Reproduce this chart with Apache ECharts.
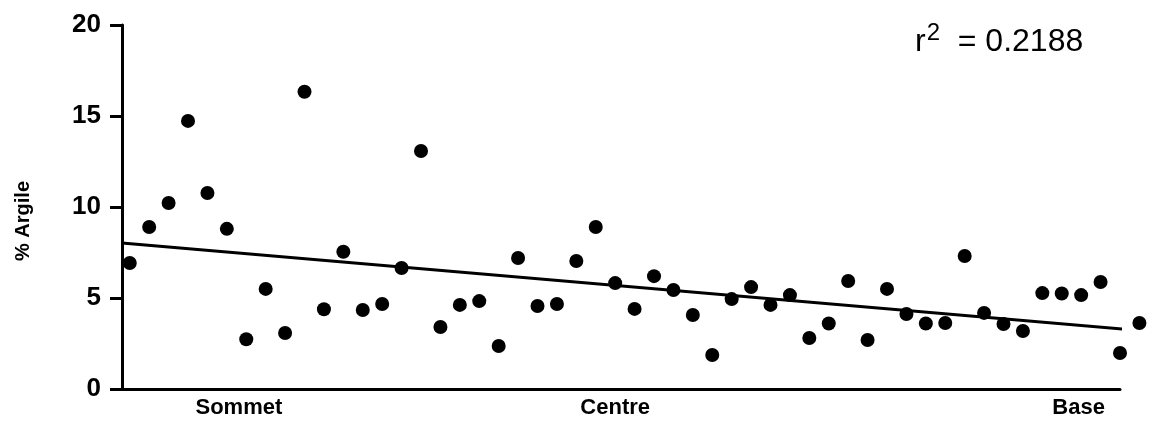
<!DOCTYPE html>
<html>
<head>
<meta charset="utf-8">
<script src="https://cdn.jsdelivr.net/npm/echarts@6/dist/echarts.min.js"></script>
<style>html,body{margin:0;padding:0;background:#fff}#c{width:1152px;height:428px}</style>
</head>
<body>
<div id="c"></div>
<script>
// sample order along the profile (1 = sommet ... 53 = base)
const argile = [6.92, 8.9, 10.22, 14.73, 10.77, 8.8, 2.73, 5.5, 3.08, 16.33,
  4.38, 7.54, 4.34, 4.67, 6.65, 13.08, 3.41, 4.62, 4.83, 2.36,
  7.2, 4.56, 4.67, 7.03, 8.9, 5.82, 4.4, 6.2, 5.44, 4.07,
  1.87, 4.94, 5.6, 4.62, 5.16, 2.8, 3.6, 5.93, 2.69, 5.5,
  4.12, 3.6, 3.63, 7.31, 4.18, 3.57, 3.19, 5.27, 5.25, 5.16,
  5.88, 1.98, 3.63];
const sampleIdx = argile.map((_, i) => i + 1);
const trendX = [0.6, 52.7];
const trendY = [8.02, 3.24];
const zoneLabels = ['Sommet', 'Centre', 'Base'];
const zoneAt = [6.62, 26.0, 49.87];
const yTicks = [0, 5, 10, 15, 20];
const r2Text = '0.2188';
const yName = '% Argile';

const FONT = '"Liberation Sans", Arial, sans-serif';
const chart = echarts.init(document.getElementById('c'));
chart.setOption({
  animation: false,
  backgroundColor: '#fff',
  title: {
    text: '{r|r}{s|2}{r|  = ' + r2Text + '}',
    left: 910, top: 16,
    textStyle: {
      rich: {
        r: {fontFamily: FONT, fontSize: 32, fontWeight: 'normal', color: '#000'},
        s: {fontFamily: FONT, fontSize: 24, fontWeight: 'normal', color: '#000', padding: [0, 0, 18, 1]}
      }
    }
  },
  grid: {left: 122, right: 32, top: 25, bottom: 39, containLabel: false},
  xAxis: {
    type: 'value', min: 0.6, max: 52,
    splitLine: {show: false},
    axisLine: {lineStyle: {color: '#000', width: 3}},
    axisTick: {show: false},
    axisLabel: {
      customValues: zoneAt,
      formatter: v => zoneLabels[zoneAt.indexOf(v)] || '',
      fontFamily: FONT, fontSize: 22, fontWeight: 'bold', color: '#000', margin: 8
    }
  },
  yAxis: {
    type: 'value', min: 0, max: 20, interval: 5,
    name: yName, nameLocation: 'middle', nameGap: 89, nameRotate: 90,
    nameTextStyle: {fontFamily: FONT, fontSize: 20, fontWeight: 'bold', color: '#000', padding: [0, 28, 0, 0]},
    splitLine: {show: false},
    axisLine: {show: true, lineStyle: {color: '#000', width: 3}},
    axisTick: {show: true, length: 12, lineStyle: {color: '#000', width: 3}},
    axisLabel: {
      customValues: yTicks,
      fontFamily: FONT, fontSize: 26, fontWeight: 'bold', color: '#000', margin: 21
    }
  },
  series: [
    {
      type: 'scatter', clip: false,
      symbol: 'circle', symbolSize: 14,
      itemStyle: {color: '#000', opacity: 1},
      data: sampleIdx.map((x, i) => [x, argile[i]])
    },
    {
      type: 'line', clip: false, symbol: 'none',
      lineStyle: {color: '#000', width: 3},
      data: trendX.map((x, i) => [x, trendY[i]])
    }
  ]
});
</script>
</body>
</html>
